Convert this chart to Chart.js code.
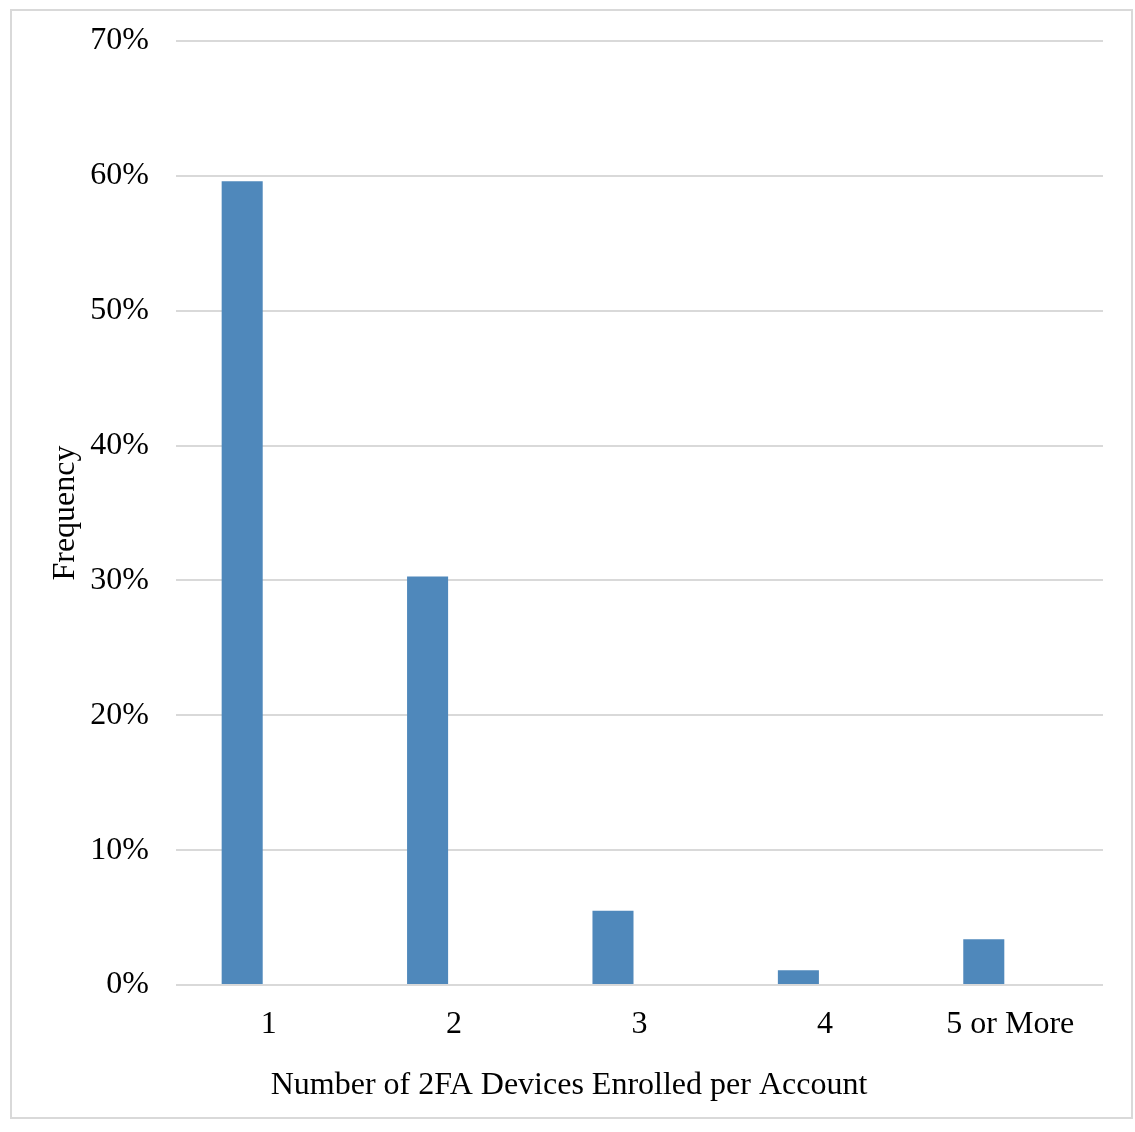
<!DOCTYPE html>
<html>
<head>
<meta charset="utf-8">
<script src="https://cdn.jsdelivr.net/npm/chart.js@4.4.1/dist/chart.umd.min.js"></script>
<style>
  html, body { margin: 0; padding: 0; background: #fff; }
  #wrap { position: relative; width: 1135px; height: 1132px; }
  #frame { position: absolute; left: 10px; top: 9px; width: 1123px; height: 1110px; border: 2px solid #d9d9d9; box-sizing: border-box; pointer-events: none; }
</style>
</head>
<body>
<div id="wrap">
  <canvas id="devChart" width="1135" height="1132"></canvas>
  <div id="frame"></div>
</div>
<script>
// categories and values (percent of accounts)
const categories = ['1', '2', '3', '4', '5 or More'];
const frequency = [59.6, 30.3, 5.5, 1.1, 3.4];
const emptySeries = [null, null, null, null, null];   // Excel had a 2nd (empty) series, shifts bars left
const yTicks = [0, 10, 20, 30, 40, 50, 60, 70];
const xTitle = 'Number of 2FA Devices Enrolled per Account';

const serif = "'Liberation Serif', 'Times New Roman', serif";
const ctx = document.getElementById('devChart').getContext('2d');

// x title is centred on the whole chart, not on the plot area
const xTitlePlugin = {
  id: 'xTitle',
  afterDraw(c) {
    const g = c.ctx;
    g.save();
    g.font = '32px ' + serif;
    g.fillStyle = '#000';
    g.textAlign = 'center';
    g.textBaseline = 'middle';
    g.fillText(xTitle, 569, 1086);
    g.restore();
  }
};

const chart = new Chart(ctx, {
  type: 'bar',
  data: {
    labels: categories,
    datasets: [
      { label: 'Frequency', data: frequency, backgroundColor: '#4f88bb', borderWidth: 0 },
      { label: 'blank', data: emptySeries, backgroundColor: '#4f88bb' }
    ]
  },
  options: {
    responsive: false,
    animation: false,
    categoryPercentage: 0.572,
    barPercentage: 0.774,
    layout: { padding: { top: 41, right: 32, bottom: 0, left: 0 } },
    plugins: { legend: { display: false }, tooltip: { enabled: false } },
    scales: {
      x: {
        grid: { display: false },
        border: { display: false },
        ticks: { color: '#000', font: { family: serif, size: 32 }, padding: 12, maxRotation: 0 },
        afterFit: s => { s.height = 147; }
      },
      y: {
        min: 0,
        max: 70,
        afterBuildTicks: s => { s.ticks = yTicks.map(v => ({ value: v })); },
        grid: { color: '#d9d9d9', lineWidth: 2, drawTicks: false },
        border: { display: false },
        ticks: { color: '#000', font: { family: serif, size: 32 }, padding: 27, callback: v => v + '%' },
        title: {
          display: true,
          text: 'Frequency',
          color: '#000',
          font: { family: serif, size: 32 },
          padding: { top: 46, bottom: 0 }
        },
        afterFit: s => {
          s.width = 176;
          s.paddingTop = 0;     // let layout.padding set the plot top
          s.paddingBottom = 0;
        }
      }
    }
  },
  plugins: [xTitlePlugin]
});
</script>
</body>
</html>
